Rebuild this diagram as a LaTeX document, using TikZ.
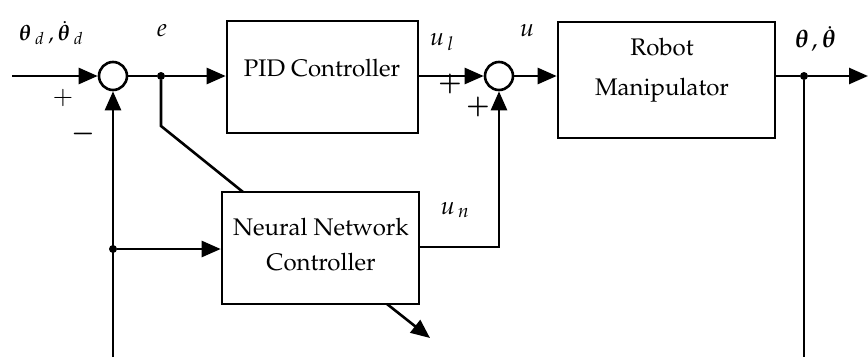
\documentclass[tikz,border=0pt]{standalone}
\usepackage[T1]{fontenc}
\usepackage{mathpazo}
\usepackage{bm}
\usetikzlibrary{arrows.meta}
\tikzset{
  lw/.style={line width=2.6pt},
  box/.style={draw, lw, rectangle, inner sep=0pt},
  txt/.style={font=\fontsize{24}{28}\selectfont, inner sep=0pt},
  sumj/.style={draw, lw, circle, minimum size=28pt, inner sep=0pt},
  dotn/.style={circle, fill, minimum size=8pt, inner sep=0pt},
  arr/.style={lw, -{Triangle[length=19pt,width=16pt]}},
  ln/.style={lw},
  lbl/.style={font=\fontsize{25}{28}\selectfont, inner sep=0pt},
  lbls/.style={font=\fontsize{22}{26}\selectfont, inner sep=0pt},
  sgn/.style={font=\fontsize{25}{28}\selectfont, inner sep=0pt},
}
\begin{document}
\begin{tikzpicture}[x=1pt,y=-1pt]
\useasboundingbox (0,0) rectangle (868,357);
% blocks
\node[sumj] (s1) at (113,76) {};
\node[sumj] (s2) at (499,76) {};
\node[box, minimum width=191pt, minimum height=112pt] (pid) at (322.5,77) {};
\node[box, minimum width=217pt, minimum height=116pt] (rob) at (666.5,80) {};
\node[box, minimum width=197pt, minimum height=112pt] (nn) at (320.5,248) {};
\node[txt] (pidt) at (322,68) {PID Controller};
\node[txt] (robt1) at (662,47) {Robot};
\node[txt] (robt2) at (662,90) {Manipulator};
\node[txt] (nnt1) at (321,227) {Neural Network};
\node[txt] (nnt2) at (321,262) {Controller};
% points
\coordinate (in) at (12,76);
\node[dotn] (de) at (161,76) {};
\coordinate (ebend) at (161,126);
\coordinate (nntop) at (243,192);
\node[dotn] (dfb) at (113,249) {};
\coordinate (fbbot) at (113,357);
\coordinate (unc) at (499,247);
\node[dotn] (dout) at (804,76) {};
\coordinate (outend) at (868,76);
\coordinate (fb2) at (804,357);
\coordinate (lrn1) at (387,304);
\coordinate (lrn2) at (430,338);
% connectors
\draw[arr] (in) -- (s1);
\draw[ln] (s1) -- (de);
\draw[arr] (de) -- (de -| pid.west);
\draw[arr] (s2 -| pid.east) -- (s2);
\draw[arr] (s2) -- (s2 -| rob.west);
\draw[ln] (dout -| rob.east) -- (dout);
\draw[arr] (dout) -- (outend);
\draw[ln] (dout) -- (fb2);
\draw[arr] (fbbot) -- (s1);
\draw[arr] (dfb) -- (dfb -| nn.west);
\draw[ln] (de) -- (ebend) -- (nntop);
\draw[arr] (unc -| nn.east) -- (unc) -- (s2);
\draw[arr] (lrn1) -- (lrn2);
% labels
\node[lbls] (lthd) at (51,33) {$\bm{\theta}_{\hspace{4pt}d}\hspace{4pt},\dot{\bm{\theta}}_{\hspace{4pt}d}$};
\node[lbl] (le) at (162,31) {$e$};
\node[lbl] (lul) at (442,42) {$u_{\hspace{3pt}l}$};
\node[lbl] (lu) at (527,31) {$u$};
\node[lbl] (lth) at (815,39) {$\bm{\theta}\hspace{3pt},\dot{\bm{\theta}}$};
\node[lbl] (lun) at (455,210) {$u_{\hspace{3pt}n}$};
\node[sgn] (p1) at (63,98) {$+$};
\node[sgn] (m1) at (83,134) {$\bm{-}$};
\node[sgn] (p2) at (450,84) {$\bm{+}$};
\node[sgn] (p3) at (478,107) {$\bm{+}$};
\end{tikzpicture}
\end{document}
